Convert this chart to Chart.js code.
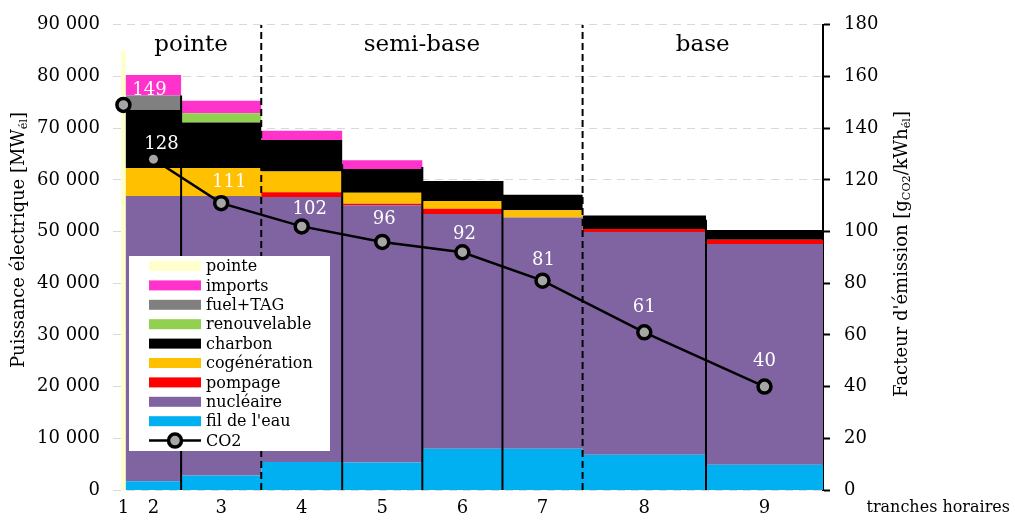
<!DOCTYPE html>
<html lang="fr">
<head>
<meta charset="UTF-8" />
<title>Puissance électrique par tranche horaire</title>
<script src="https://cdn.jsdelivr.net/npm/chart.js"></script>
<style>
  body { margin: 0; background: #fff; }
</style>
</head>
<body>
<canvas id="chart" width="1015" height="523"></canvas>
<script>
// limites des tranches horaires (heures de l'année)
const bounds = [0, 60, 750, 1750, 2760, 3760, 4760, 5760, 7300, 8760];
const tranches = ['1', '2', '3', '4', '5', '6', '7', '8', '9'];

// puissance par filière (MW), tranche 1 -> 9
const filEau    = [0, 1700, 2800, 5400, 5300, 8000, 8000, 6800, 4900];
const nucleaire = [0, 55200, 54100, 51300, 49800, 45400, 44700, 43100, 42700];
const pompage   = [0, 0, 0, 900, 300, 1000, 0, 600, 800];
const cogen     = [0, 5400, 5400, 4000, 2100, 1500, 1400, 0, 0];
const charbon   = [0, 11200, 8800, 6100, 4600, 3900, 3000, 2600, 1900];
const renouv    = [0, 0, 1800, 0, 0, 0, 0, 0, 0];
const fuelTag   = [0, 2800, 0, 0, 0, 0, 0, 0, 0];
const imports   = [0, 4000, 2400, 1800, 1700, 0, 0, 0, 0];
const pointe    = [85000, 0, 0, 0, 0, 0, 0, 0, 0];

// facteur d'émission (gCO2/kWh)
const co2 = [149, 128, 111, 102, 96, 92, 81, 61, 40];

// traits de séparation : index de limite + hauteur (MW)
const solidAt  = [2, 4, 5, 6, 8];
const solidTop = [76300, 63000, 62500, 59800, 52300];
const dashedAt = [3, 7];
const periods  = [['pointe', 0, 3], ['semi-base', 3, 7], ['base', 7, 9]];

const FONT = '"DejaVu Serif", serif';
Chart.defaults.font.family = FONT;
Chart.defaults.color = '#000';

const layers = [
  ["fil de l'eau", filEau, '#00B0F0'],
  ['nucléaire', nucleaire, '#8064A2'],
  ['pompage', pompage, '#FF0000'],
  ['cogénération', cogen, '#FFC000'],
  ['charbon', charbon, '#000000'],
  ['renouvelable', renouv, '#92D050'],
  ['fuel+TAG', fuelTag, '#808080'],
  ['imports', imports, '#FF33CC'],
  ['pointe', pointe, '#FFFFCC'],
];

const steps = vals => bounds.map((b, i) => ({ x: b, y: vals[Math.min(i, vals.length - 1)] }));
const mid = i => (bounds[i] + bounds[i + 1]) / 2;

const areaSets = layers.map(([label, vals, color], i) => ({
  label, data: steps(vals), yAxisID: 'y', stepped: true,
  backgroundColor: color, borderColor: 'rgba(0,0,0,0)', borderWidth: 0,
  pointRadius: 0, pointHitRadius: 0, fill: i === 0 ? 'origin' : '-1', order: 2
}));

const solidPts = [];
solidAt.forEach((b, i) => solidPts.push({ x: bounds[b], y: 0 }, { x: bounds[b], y: solidTop[i] }, { x: bounds[b], y: null }));
const dashedPts = [];
dashedAt.forEach(b => dashedPts.push({ x: bounds[b], y: 0 }, { x: bounds[b], y: 90000 }, { x: bounds[b], y: null }));

const lineSets = [
  { label: 'sep', data: solidPts, yAxisID: 'yLines', borderColor: '#000', borderWidth: 2, pointRadius: 0, fill: false, order: 1 },
  { label: 'sep2', data: dashedPts, yAxisID: 'yLines', borderColor: '#000', borderWidth: 2, borderDash: [7, 4], pointRadius: 0, fill: false, order: 1 },
];

const co2Set = {
  label: 'CO2', data: co2.map((v, i) => ({ x: mid(i), y: v })), yAxisID: 'y2',
  borderColor: '#000', borderWidth: 2.5, fill: false, order: 0,
  pointBackgroundColor: '#A6A6A6', pointBorderColor: '#000',
  pointRadius: co2.map((v, i) => i === 1 ? 4.5 : 6.5),
  pointBorderWidth: co2.map((v, i) => i === 1 ? 0 : 3.5),
  segment: { borderColor: c => c.p0DataIndex === 0 ? 'rgba(0,0,0,0)' : undefined }
};

const fmt = v => String(v).replace(/\B(?=(\d{3})+(?!\d))/g, ' ');

// texte avec indices (MWél, gCO2...)
function richText(ctx, parts, x, y, size) {
  let w = 0;
  parts.forEach(([t, sub]) => { ctx.font = (sub ? size * 0.62 : size) + 'px ' + FONT; w += ctx.measureText(t).width; });
  let cx = x - w / 2;
  ctx.textAlign = 'left';
  ctx.textBaseline = 'middle';
  parts.forEach(([t, sub]) => {
    ctx.font = (sub ? size * 0.62 : size) + 'px ' + FONT;
    ctx.fillText(t, cx, sub ? y + size * 0.3 : y);
    cx += ctx.measureText(t).width;
  });
}

const decor = {
  id: 'decor',
  afterDatasetsDraw(chart) {
    const { ctx, scales: { x, y2 }, chartArea } = chart;
    ctx.save();

    // étiquettes CO2
    const shift = [[26, -15], [8, -15], [8, -21], [8, -17], [2, -23], [2, -18], [1, -20], [0, -25], [0, -25]];
    ctx.fillStyle = '#fff';
    ctx.font = '18px ' + FONT;
    ctx.textAlign = 'center';
    ctx.textBaseline = 'middle';
    co2.forEach((v, i) => ctx.fillText(v, x.getPixelForValue(mid(i)) + shift[i][0], y2.getPixelForValue(v) + shift[i][1]));

    // périodes
    ctx.fillStyle = '#000';
    ctx.font = '23px ' + FONT;
    periods.forEach(([t, a, b]) => ctx.fillText(t, (x.getPixelForValue(bounds[a]) + x.getPixelForValue(bounds[b])) / 2, chartArea.top + 20));

    // légende
    const lx = 129, ly = 256;
    ctx.fillStyle = '#fff';
    ctx.fillRect(lx, ly, 201, 195);
    ctx.font = '16px ' + FONT;
    ctx.textAlign = 'left';
    const items = layers.slice().reverse();
    items.forEach(([label, , color], i) => {
      const cy = ly + 10 + i * 19.4;
      ctx.fillStyle = color;
      ctx.fillRect(lx + 20, cy - 5, 52, 10);
      ctx.fillStyle = '#000';
      ctx.fillText(label, lx + 77, cy + 1);
    });
    const cy = ly + 10 + items.length * 19.4;
    ctx.strokeStyle = '#000';
    ctx.lineWidth = 2.5;
    ctx.beginPath(); ctx.moveTo(lx + 20, cy); ctx.lineTo(lx + 72, cy); ctx.stroke();
    ctx.beginPath(); ctx.arc(lx + 46, cy, 6.5, 0, Math.PI * 2);
    ctx.fillStyle = '#A6A6A6'; ctx.fill();
    ctx.lineWidth = 3.5; ctx.stroke();
    ctx.fillStyle = '#000';
    ctx.fillText('CO2', lx + 77, cy + 1);
    ctx.restore();
  },
  afterDraw(chart) {
    const { ctx } = chart;
    ctx.save();
    ctx.fillStyle = '#000';
    ctx.translate(19, 240); ctx.rotate(-Math.PI / 2);
    richText(ctx, [['Puissance électrique [MW'], ['él', true], [']']], 0, 0, 18);
    ctx.restore();
    ctx.save();
    ctx.fillStyle = '#000';
    ctx.translate(902, 254); ctx.rotate(-Math.PI / 2);
    richText(ctx, [["Facteur d'émission [g"], ['CO2', true], ['/kWh'], ['él', true], [']']], 0, 0, 18);
    ctx.restore();
    ctx.save();
    ctx.fillStyle = '#000';
    ctx.font = '16px ' + FONT;
    ctx.textAlign = 'right';
    ctx.textBaseline = 'middle';
    ctx.fillText('tranches horaires', 1010, 508);
    ctx.restore();
  }
};

new Chart(document.getElementById('chart'), {
  type: 'line',
  data: { datasets: [...areaSets, ...lineSets, co2Set] },
  options: {
    responsive: false,
    animation: false,
    layout: { padding: { top: 22 } },
    plugins: { legend: { display: false }, tooltip: { enabled: false } },
    scales: {
      x: {
        type: 'linear', min: -100, max: 8760,
        grid: { display: false, drawTicks: false },
        border: { display: false },
        afterBuildTicks: s => { s.ticks = tranches.map((t, i) => ({ value: mid(i) })); },
        ticks: { autoSkip: false, maxRotation: 0, padding: 8, font: { size: 18 }, callback: (v, i) => tranches[i] },
        afterFit: s => { s.height = 33; }
      },
      y: {
        stacked: true, min: 0, max: 90000,
        ticks: { stepSize: 10000, padding: 13, font: { size: 18 }, callback: v => fmt(v) },
        grid: { color: '#D9D9D9', drawTicks: false },
        border: { display: false, dash: [8, 6] },
        afterFit: s => { s.width = 113; }
      },
      y2: {
        position: 'right', min: 0, max: 180,
        ticks: { stepSize: 20, padding: 14, font: { size: 18 } },
        grid: { drawOnChartArea: false, tickLength: 7, tickColor: '#000', tickWidth: 2 },
        border: { display: true, color: '#000', width: 2 },
        afterFit: s => { s.width = 192; }
      },
      yLines: { display: false, min: 0, max: 90000 }
    }
  },
  plugins: [decor]
});
</script>
</body>
</html>
